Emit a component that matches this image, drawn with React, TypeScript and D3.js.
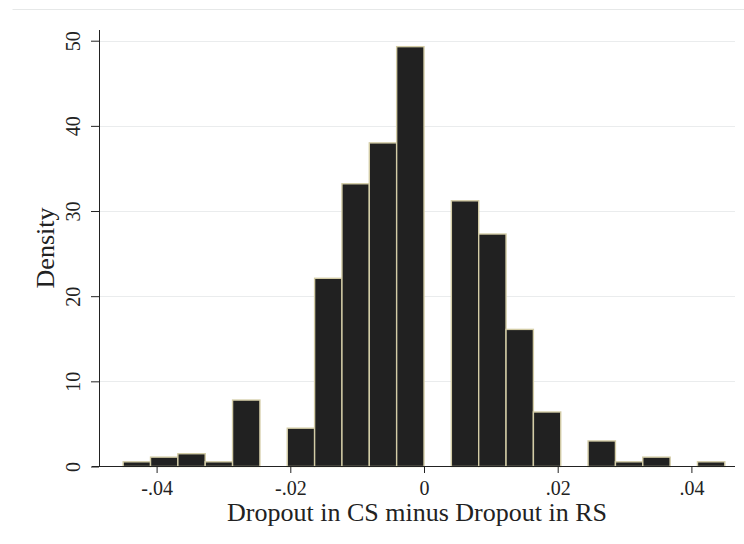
import React, { useRef, useEffect } from 'react'
import * as d3 from 'd3'

// histogram: 22 equal bins from -.045 to .045
const binLo = -0.045
const binHi = 0.045
const density = [0.55, 1.1, 1.5, 0.55, 7.8, 0, 4.5, 22.1, 33.2, 38.0, 49.3, 0, 31.2, 27.3, 16.1, 6.4, 0, 3.0, 0.55, 1.1, 0, 0.55]

const xTicks = [-0.04, -0.02, 0, 0.02, 0.04]
const xTickLabels = ['-.04', '-.02', '0', '.02', '.04']
const yTicks = [0, 10, 20, 30, 40, 50]

const xTitle = 'Dropout in CS minus Dropout in RS'
const yTitle = 'Density'

export default function App() {
  const canvas = useRef<SVGSVGElement>(null)

  useEffect(() => {
    const svg = d3.select(canvas.current)
    svg.selectAll('*').remove()

    const font = '"Liberation Serif", "Times New Roman", serif'
    const binW = (binHi - binLo) / density.length

    const x = d3.scaleLinear().domain([-0.04, 0.04]).range([156.6, 691.4])
    const y = d3.scaleLinear().domain([0, 50]).range([466.5, 40.7])

    const left = 99
    const right = 735
    const bottom = 466

    // faint outer region line
    svg.append('line')
      .attr('x1', 12.5).attr('x2', 744)
      .attr('y1', 9.5).attr('y2', 9.5)
      .attr('stroke', '#e6e8e8').attr('stroke-width', 1)

    // gridlines
    svg.append('g')
      .selectAll('line')
      .data(yTicks.filter(d => d > 0))
      .enter()
      .append('line')
      .attr('x1', left).attr('x2', right)
      .attr('y1', d => Math.round(y(d)) + 0.5)
      .attr('y2', d => Math.round(y(d)) + 0.5)
      .attr('stroke', '#eaeced').attr('stroke-width', 1)

    // bars
    const bins = density.map((v, i) => ({ x0: binLo + i * binW, x1: binLo + (i + 1) * binW, v }))
    svg.append('g')
      .selectAll('rect')
      .data(bins.filter(d => d.v > 0))
      .enter()
      .append('rect')
      .attr('x', d => x(d.x0))
      .attr('width', d => x(d.x1) - x(d.x0))
      .attr('y', d => y(d.v))
      .attr('height', d => y(0) - y(d.v))
      .attr('fill', '#212121')
      .attr('stroke', '#d3cca6')
      .attr('stroke-width', 1.4)

    // axes
    const xAxis = svg.append('g')
      .attr('transform', `translate(0,${bottom})`)
      .call(d3.axisBottom(x).tickValues(xTicks).tickSize(7).tickFormat((d, i) => xTickLabels[i]))
    xAxis.select('.domain').attr('d', `M92,0.5H${right}`).attr('stroke', '#222')
    xAxis.selectAll('.tick line').attr('stroke', '#222')
    xAxis.selectAll('.tick text')
      .attr('font-family', font).attr('font-size', 20).attr('fill', '#222')
      .attr('dy', null).attr('y', 29)

    const yAxis = svg.append('g')
      .attr('transform', `translate(${left},0)`)
      .call(d3.axisLeft(y).tickValues(yTicks).tickSize(8))
    yAxis.select('.domain').attr('d', `M0.5,30V${bottom}`).attr('stroke', '#222')
    yAxis.selectAll('.tick line').attr('stroke', '#222')
    yAxis.selectAll('.tick text')
      .attr('font-family', font).attr('font-size', 20).attr('fill', '#222')
      .attr('x', null).attr('dy', null)
      .attr('text-anchor', 'middle')
      .attr('transform', 'translate(-19,0) rotate(-90)')

    // titles
    svg.append('text')
      .attr('x', 417).attr('y', 521)
      .attr('text-anchor', 'middle')
      .attr('font-family', font).attr('font-size', 26).attr('fill', '#222')
      .text(xTitle)

    svg.append('text')
      .attr('transform', `translate(54,${(30 + bottom) / 2}) rotate(-90)`)
      .attr('text-anchor', 'middle')
      .attr('font-family', font).attr('font-size', 26).attr('fill', '#222')
      .text(yTitle)
  }, [])

  return (
    <svg ref={canvas} width={744} height={544}
      style={{ position: 'absolute', left: 0, top: 0, background: '#fff' }} />
  )
}
